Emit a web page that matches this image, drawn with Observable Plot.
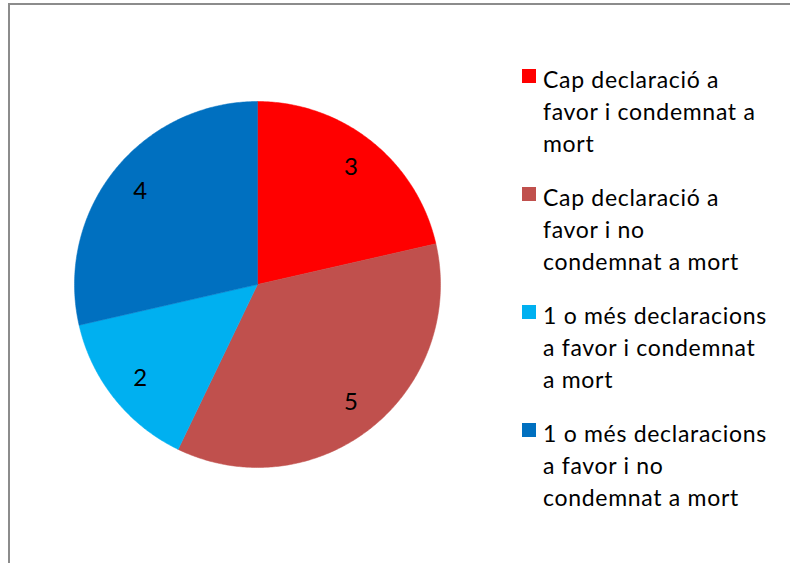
<!DOCTYPE html>
<html>
<head>
<meta charset="utf-8">
<script src="https://cdn.jsdelivr.net/npm/d3@7"></script>
<script src="https://cdn.jsdelivr.net/npm/@observablehq/plot@0.6"></script>
<style>
  html, body { margin: 0; padding: 0; background: #fff; }
  #wrap { position: relative; width: 790px; height: 563px; overflow: hidden; font-family: Lato, "Liberation Sans", sans-serif; }
  #frame { position: absolute; left: 8px; top: 3px; width: 820px; height: 620px; border: 2px solid #8c8c8c; box-sizing: border-box; pointer-events: none; }
  #chart { position: absolute; left: 0; top: 0; }
  #legend { position: absolute; left: 522px; top: 63px; }
  .item { position: relative; padding-left: 21px; font-size: 23px; letter-spacing: 0.7px; line-height: 32px; color: #000; white-space: pre-line; margin-bottom: 22px; }
  .sw { position: absolute; left: 0; top: 6px; width: 14px; height: 14px; }
</style>
</head>
<body>
<div id="wrap">
  <div id="chart"></div>
  <div id="legend"></div>
  <div id="frame"></div>
</div>
<script>
const categories = [
  "Cap declaració a\nfavor i condemnat a\nmort",
  "Cap declaració a\nfavor i no\ncondemnat a mort",
  "1 o més declaracions\na favor i condemnat\na mort",
  "1 o més declaracions\na favor i no\ncondemnat a mort"
];
const values = [3, 5, 2, 4];
const colors = ["#FF0000", "#C0504D", "#00B0F0", "#0070C0"];

const pie = d3.pie().sort(null).value(d => d.value)(categories.map((c, i) => ({key: c, value: values[i]})));

// sector outlines from pie angles (clockwise from 12 o'clock)
const pts = [];
pie.forEach(s => {
  pts.push({key: s.data.key, x: 0, y: 0});
  const n = Math.max(2, Math.ceil((s.endAngle - s.startAngle) / 0.01));
  for (let k = 0; k <= n; k++) {
    const a = s.startAngle + (s.endAngle - s.startAngle) * k / n;
    pts.push({key: s.data.key, x: Math.sin(a), y: Math.cos(a)});
  }
  pts.push({key: s.data.key, x: 0, y: 0});
});
const labels = pie.map(s => {
  const a = (s.startAngle + s.endAngle) / 2;
  return {x: 0.82 * Math.sin(a), y: 0.82 * Math.cos(a), text: String(s.data.value)};
});

const cx = 257, cy = 284, r = 183;
const plot = Plot.plot({
  width: 790,
  height: 563,
  margin: 0,
  x: {domain: [-1, 1], range: [cx - r, cx + r], axis: null},
  y: {domain: [-1, 1], range: [cy + r, cy - r], axis: null},
  color: {domain: categories, range: colors},
  style: {fontFamily: "Lato, 'Liberation Sans', sans-serif", background: "transparent"},
  marks: [
    Plot.line(pts, {x: "x", y: "y", z: "key", fill: "key", stroke: "key", strokeWidth: 0.5, curve: "linear"}),
    Plot.text(labels, {x: "x", y: "y", text: "text", fontSize: 24, fill: "#000"})
  ]
});
document.getElementById("chart").appendChild(plot);

const legend = document.getElementById("legend");
categories.forEach((c, i) => {
  const div = document.createElement("div");
  div.className = "item";
  const sw = document.createElement("span");
  sw.className = "sw";
  sw.style.background = colors[i];
  div.appendChild(sw);
  div.appendChild(document.createTextNode(c));
  legend.appendChild(div);
});
</script>
</body>
</html>
